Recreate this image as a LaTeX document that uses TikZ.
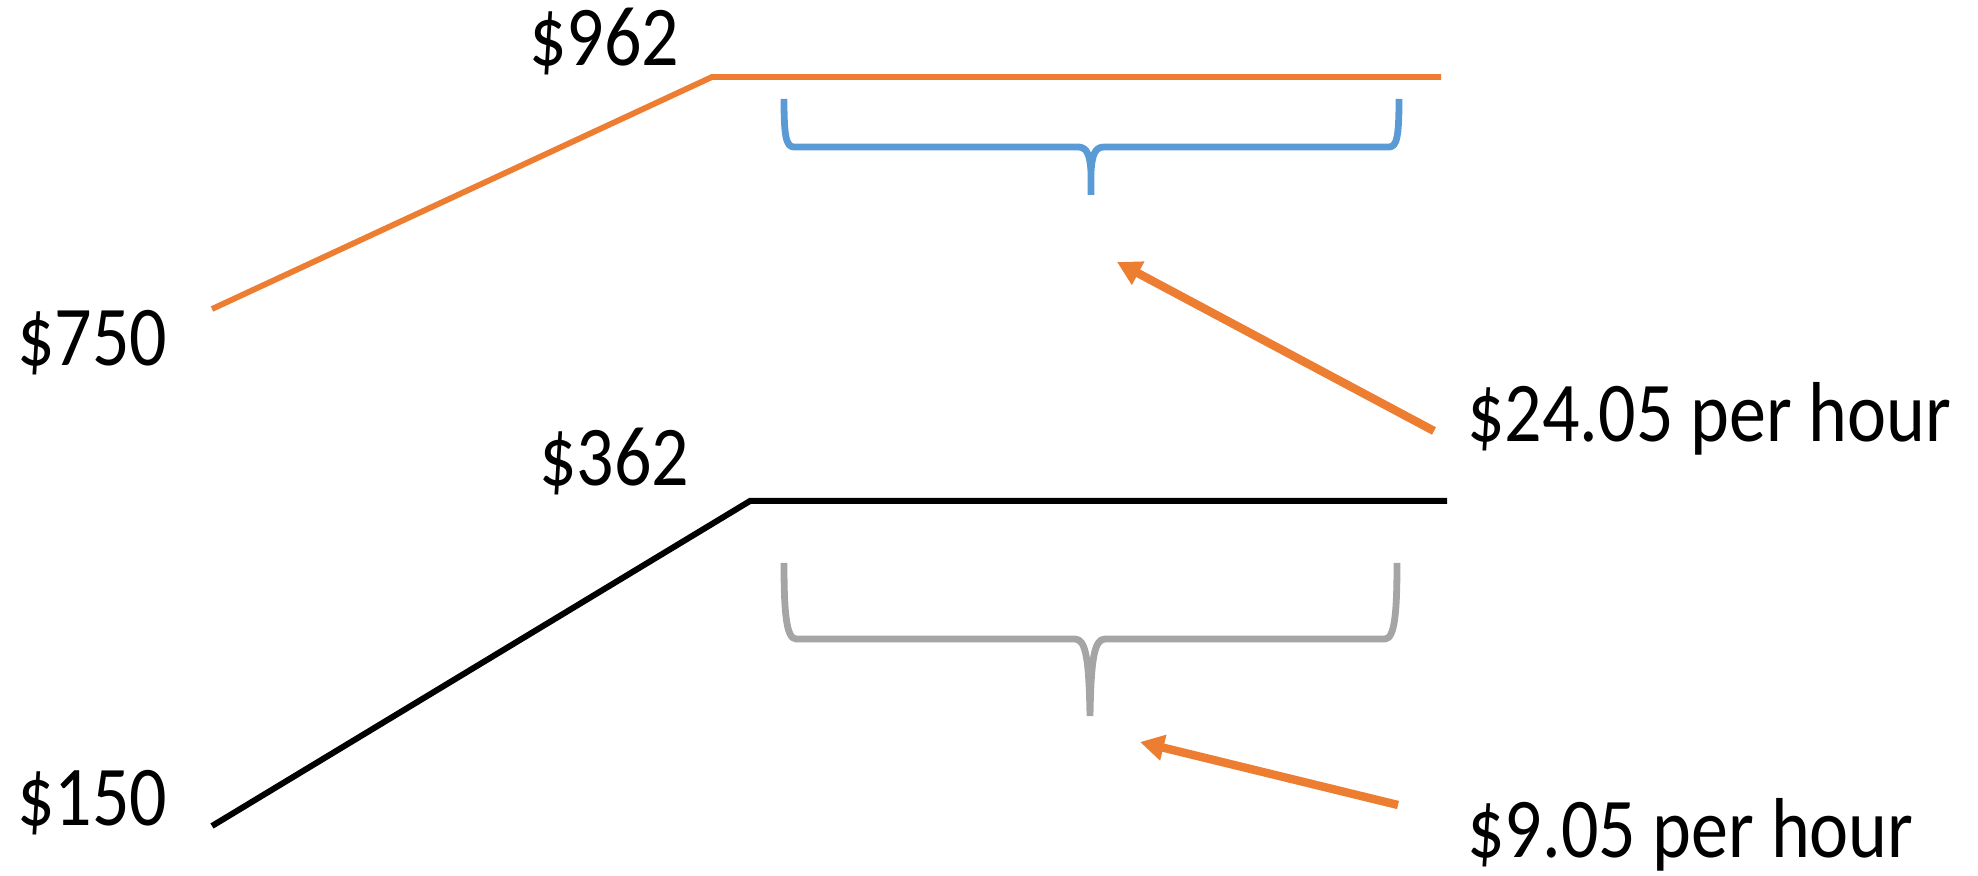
\documentclass[tikz,border=0pt]{standalone}
\usepackage{fontspec}
\setmainfont{Carlito}
\usetikzlibrary{arrows.meta}
\definecolor{orng}{HTML}{ED7D31}
\definecolor{blu}{HTML}{5B9BD5}
\definecolor{gry}{HTML}{A5A5A5}
\newcommand{\tallt}[1]{\scalebox{1}[1.15]{#1}}
\begin{document}
\begin{tikzpicture}[x=0.5pt,y=-0.5pt,
  lbl/.style={inner sep=0pt,anchor=base west,font=\fontsize{37}{44}\selectfont},
  wageline/.style={line width=2.9pt,line join=miter},
  bracestyle/.style={line width=3.4pt,line join=round},
  pointer/.style={orng,line width=4.2pt,-{Triangle[length=12pt,width=12.5pt]}}]
\useasboundingbox (0,0) rectangle (1978,876);
% labels
\node[lbl] (t962) at (529,66) {\tallt{\$962}};
\node[lbl] (t750) at (17,366) {\tallt{\$750}};
\node[lbl] (t362) at (539,486) {\tallt{\$362}};
\node[lbl] (t150) at (17,826) {\tallt{\$150}};
\node[lbl] (r24) at (1467,442) {\tallt{\$24.05 per hour}};
\node[lbl] (r9) at (1467,858) {\tallt{\$9.05 per hour}};
% orange wage line
\coordinate (o1) at (212,309);
\coordinate (o2) at (712,77);
\coordinate (o3) at (1441,77);
\draw[wageline,orng] (o1) -- (o2) -- (o3);
% black wage line
\coordinate (k1) at (212,826);
\coordinate (k2) at (750,501);
\coordinate (k3) at (1447,501);
\draw[wageline,black,line width=3pt] (k1) -- (k2) -- (k3);
% blue brace
\draw[bracestyle,blu]
  (784,99) .. controls (784,136) and (786,147) .. (794,147)
  -- (1078,147) .. controls (1087,147) and (1090,155) .. (1091,172) -- (1091,195)
  (1399,99) .. controls (1399,136) and (1397,147) .. (1389,147)
  -- (1104,147) .. controls (1095,147) and (1092,155) .. (1091,172);
% gray brace
\draw[bracestyle,gry]
  (784,563) .. controls (784,610) and (786,639) .. (796,639)
  -- (1075,639) .. controls (1086,639) and (1089,660) .. (1090,716)
  (1397,563) .. controls (1397,610) and (1395,639) .. (1385,639)
  -- (1105,639) .. controls (1094,639) and (1091,660) .. (1090,716);
% pointers
\coordinate (a1s) at (1434,431);
\coordinate (a1e) at (1117,262);
\draw[pointer] (a1s) -- (a1e);
\coordinate (a2s) at (1398,805);
\coordinate (a2e) at (1140,742);
\draw[pointer] (a2s) -- (a2e);
\end{tikzpicture}
\end{document}
